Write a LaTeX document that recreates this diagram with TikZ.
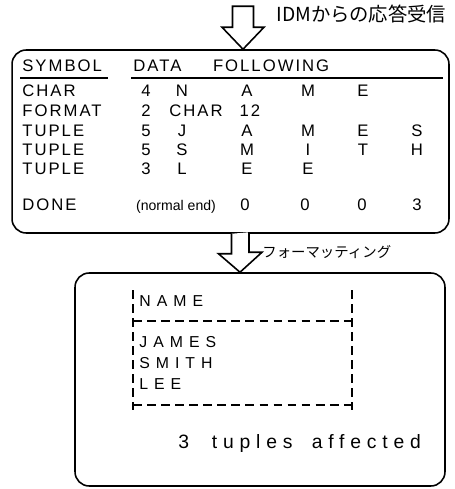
\documentclass[tikz,border=0pt]{standalone}
\usepackage{fontspec}
\setmainfont{Liberation Sans}
\newfontfamily\jp{Noto Sans CJK JP}
\newfontfamily\hand[LetterSpace=12]{Liberation Sans}
\newfontfamily\spaced[LetterSpace=38]{Liberation Sans}
\newfontfamily\loose[LetterSpace=30]{Liberation Sans}
\usetikzlibrary{calc}

\tikzset{
  panel/.style={draw, line width=0.9pt, rounded corners=8pt, inner sep=0pt},
  cell/.style={anchor=base, inner sep=0pt, font=\hand\fontsize{9.5}{11}\selectfont},
  sym/.style={cell, anchor=base west},
  row/.style={anchor=base west, inner sep=0pt, font=\spaced\fontsize{9}{10}\selectfont},
  blockarrow/.style={draw, line width=0.9pt, fill=white, line join=miter},
  cut/.style={line width=0.8pt, dash pattern=on 5pt off 3pt},
}

\begin{document}
\begin{tikzpicture}[x=0.02cm, y=-0.02cm]
  \useasboundingbox (0,0) rectangle (454,489);

  %===== boxes =====%
  \node[panel, minimum width=8.74cm, minimum height=3.66cm] (resp) at (230.5,141.5) {};
  \node[panel, minimum width=7.4cm, minimum height=4.26cm] (out) at (260,379.5) {};

  %===== incoming arrow =====%
  \coordinate (tip1) at ($(resp.north)+(12.5,0)$);
  \draw[blockarrow] (tip1) -- ++(-21,-22) -- ++(10.5,0) -- ++(0,-21)
    -- ++(21,0) -- ++(0,21) -- ++(10.5,0) -- cycle;
  \node[anchor=west, inner sep=0pt, font=\jp\fontsize{11}{13}\selectfont]
    (recv) at (276,14) {IDMからの応答受信};

  %===== formatting arrow =====%
  \coordinate (tip2) at ($(out.north)+(-20,0)$);
  \draw[blockarrow] ($(resp.south)+(1,0)$) -- ++(0,20) -- ++(-13,0) -- (tip2)
    -- ++(22,-20) -- ++(-13,0) -- ++(0,-20);
  \node[anchor=west, inner sep=0pt, font=\jp\fontsize{8.2}{10}\selectfont]
    (fmt) at (262,252) {フォーマッティング};

  %===== header =====%
  \node[sym] (hsym) at (22,72) {SYMBOL};
  \node[sym] (hdata) at (133,72) {DATA\hspace{18pt}FOLLOWING};
  \draw[line width=0.8pt] (20,78) -- (108,78);
  \draw[line width=0.8pt] (131,78) -- (443,78);

  %===== rows =====%
  \node[sym] (s1) at (22,97) {CHAR};
  \foreach \t/\cx [count=\i] in {4/146, N/182, A/247, M/308, E/363}
    \node[cell] (a\i) at (\cx,97) {\t};

  \node[sym] (s2) at (22,117) {FORMAT};
  \foreach \t/\cx [count=\i] in {2/146, CHAR/196, 12/250}
    \node[cell] (b\i) at (\cx,117) {\t};

  \node[sym] (s3) at (22,137) {TUPLE};
  \foreach \t/\cx [count=\i] in {5/146, J/182, A/247, M/308, E/363, S/417}
    \node[cell] (c\i) at (\cx,137) {\t};

  \node[sym] (s4) at (22,156) {TUPLE};
  \foreach \t/\cx [count=\i] in {5/146, S/182, M/247, I/308, T/363, H/417}
    \node[cell] (d\i) at (\cx,156) {\t};

  \node[sym] (s5) at (22,175) {TUPLE};
  \foreach \t/\cx [count=\i] in {3/146, L/182, E/247, E/308}
    \node[cell] (e\i) at (\cx,175) {\t};

  \node[sym] (s6) at (22,211) {DONE};
  \node[anchor=base, inner sep=0pt, font=\fontsize{8}{10}\selectfont]
    (normal) at (176,211) {(normal end)};
  \foreach \t/\cx [count=\i] in {0/245, 0/305, 0/362, 3/417}
    \node[cell] (f\i) at (\cx,211) {\t};

  %===== result table =====%
  \draw[cut] (133,290) -- (133,410);
  \draw[cut] (352,290) -- (352,410);
  \draw[cut] (133,321) -- (352,321);
  \draw[cut] (133,405) -- (352,405);
  \node[row] (name) at (139,306) {NAME};
  \node[row] (r1) at (139,347) {JAMES};
  \node[row] (r2) at (139,368) {SMITH};
  \node[row] (r3) at (139,389) {LEE};

  \node[anchor=base west, inner sep=0pt, font=\loose\fontsize{11}{13}\selectfont]
    (count) at (178,448) {3\hspace{13pt}tuples\hspace{11pt}affected};
\end{tikzpicture}
\end{document}
